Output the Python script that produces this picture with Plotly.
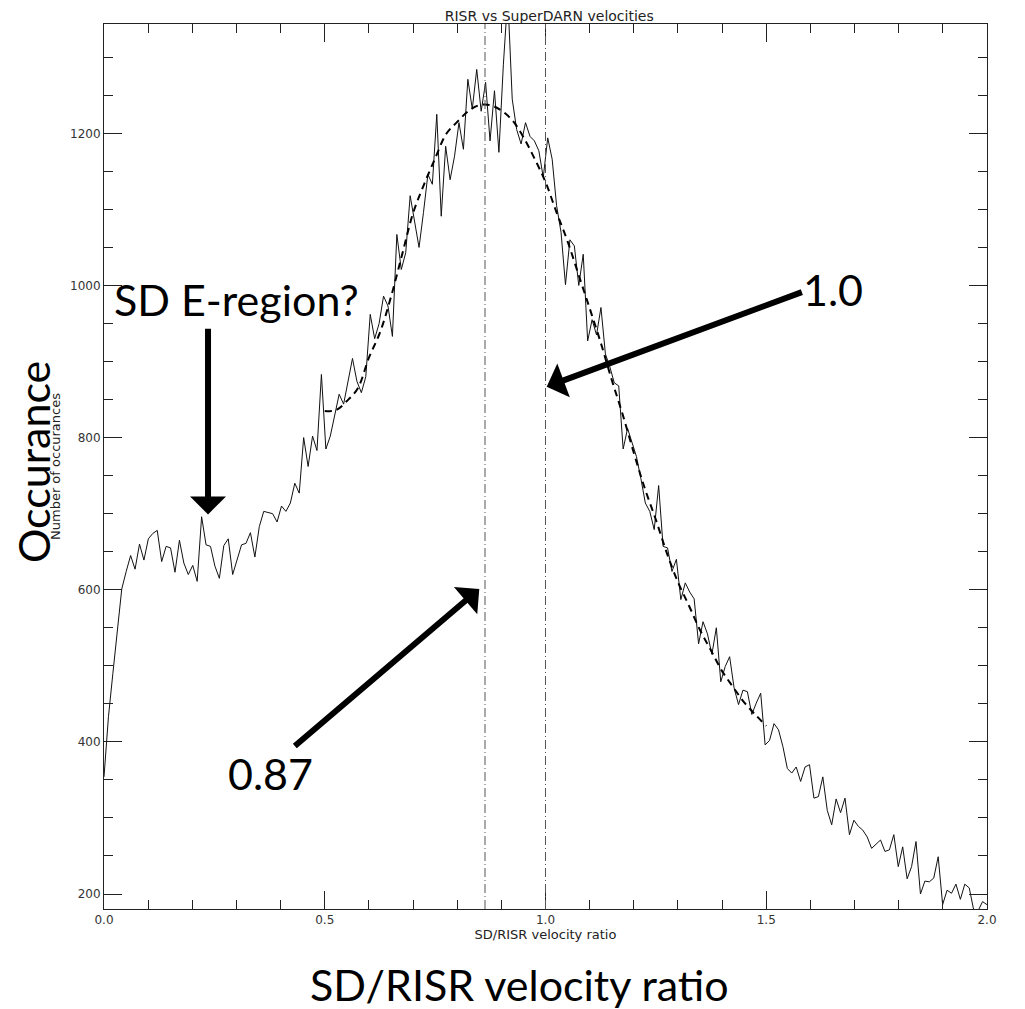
import numpy as np
import plotly.graph_objects as go

# ---------------- data ----------------
ratio_counts = [
    354, 433, 490, 545, 601, 624, 645, 627, 660, 639,
    667, 674, 678, 637, 657, 655, 623, 665, 635, 620,
    632, 611, 696, 659, 657, 631, 615, 658, 667, 620,
    640, 659, 661, 675, 643, 683, 703, 701, 700, 689,
    710, 703, 714, 740, 727, 800, 762, 802, 783, 883,
    785, 802, 830, 857, 844, 875, 904, 874, 859, 880,
    962, 930, 950, 986, 973, 933, 1067, 1021, 1043, 1118,
    1085, 1050, 1096, 1146, 1133, 1225, 1091, 1183, 1139, 1170,
    1214, 1179, 1271, 1232, 1284, 1229, 1267, 1190, 1256, 1175,
    1290, 1380, 1245, 1205, 1186, 1214, 1196, 1190, 1177, 1142,
    1194, 1166, 1105, 1070, 1001, 1060, 1052, 1000, 1041, 927,
    955, 935, 971, 910, 893, 872, 868, 785, 812, 794,
    775, 746, 714, 703, 679, 737, 657, 655, 624, 640,
    587, 609, 597, 588, 529, 558, 542, 515, 550, 479,
    499, 512, 471, 449, 468, 466, 436, 451, 464, 396,
    402, 424, 416, 394, 365, 359, 367, 348, 367, 370,
    326, 328, 354, 310, 291, 325, 307, 326, 278, 297,
    289, 284, 275, 260, 265, 271, 256, 258, 278, 236,
    262, 220, 236, 269, 200, 217, 216, 221, 249, 186,
    205, 201, 213, 193, 213, 208, 179, 178, 190, 186,
]
ratio_bins = np.linspace(0.0, 2.0, len(ratio_counts))

fit_x = [0.50, 0.525, 0.55, 0.575, 0.60, 0.625, 0.65, 0.675, 0.70, 0.725,
         0.75, 0.775, 0.80, 0.825, 0.85, 0.875, 0.90, 0.925, 0.95, 0.975,
         1.00, 1.025, 1.05, 1.075, 1.10, 1.125, 1.15, 1.175, 1.20, 1.225,
         1.25, 1.275, 1.30, 1.325, 1.35, 1.375, 1.40, 1.425, 1.45, 1.475, 1.50]
fit_y = [835, 836, 848, 865, 905, 938, 985, 1040, 1095, 1133,
         1167, 1199, 1215, 1229, 1237, 1237, 1230, 1217, 1195, 1167,
         1136, 1096, 1058, 1014, 970, 925, 876, 830, 780, 733,
         692, 648, 610, 579, 547, 520, 493, 472, 452, 436, 421]

ref_ratios = [0.863, 1.0]

x_ticks = [0.0, 0.5, 1.0, 1.5, 2.0]
x_tick_text = ["0.0", "0.5", "1.0", "1.5", "2.0"]
y_ticks = [200, 400, 600, 800, 1000, 1200]
y_tick_text = ["200", "400", "600", "800", "1000", "1200"]

# ---------------- figure ----------------
fig = go.Figure()

fig.add_trace(go.Scatter(
    x=ratio_bins, y=ratio_counts, mode="lines",
    line=dict(color="#111111", width=1), showlegend=False, hoverinfo="skip"))

fig.add_trace(go.Scatter(
    x=fit_x, y=fit_y, mode="lines", line_shape="spline",
    line=dict(color="#000000", width=2, dash="7px,5px"),
    showlegend=False, hoverinfo="skip"))

for r in ref_ratios:
    fig.add_shape(type="line", xref="x", yref="paper", x0=r, x1=r, y0=0, y1=1,
                  line=dict(color="#555555", width=1, dash="9px,3px,1px,3px"))

big_font = dict(family="Lato", size=43, color="#000000")
small_font = dict(family="DejaVu Sans", size=13, color="#222222")
tick_font = dict(family="DejaVu Sans", size=12, color="#333333")

axis_common = dict(
    showline=True, linecolor="#222222", linewidth=1, mirror="ticks",
    ticks="inside", tickcolor="#222222", tickwidth=1, ticklen=18,
    showgrid=False, zeroline=False, tickfont=tick_font, automargin=False,
)

fig.update_xaxes(
    range=[0, 2], tickvals=x_ticks, ticktext=x_tick_text,
    minor=dict(ticks="inside", ticklen=9, dtick=0.1, tick0=0, tickcolor="#222222", showgrid=False),
    title=dict(text="SD/RISR velocity ratio", font=small_font, standoff=3),
    **axis_common)
fig.update_yaxes(
    range=[180.3, 1343.7], tickvals=y_ticks, ticktext=y_tick_text,
    minor=dict(ticks="inside", ticklen=9, dtick=50, tick0=200, tickcolor="#222222", showgrid=False),
    title=dict(text="Number of occurances", font=small_font, standoff=6),
    **axis_common)

# overlay labels
fig.add_annotation(text="Occurance", xref="paper", yref="paper", x=-0.0804, y=0.505,
                   textangle=-90, showarrow=False, font=big_font,
                   xanchor="center", yanchor="middle")
fig.add_annotation(text="SD/RISR velocity ratio", xref="paper", yref="paper", x=0.471, y=-0.085,
                   showarrow=False, font=big_font, xanchor="center", yanchor="middle")
fig.add_annotation(text="SD E-region?", xref="x", yref="y", x=0.299, y=982,
                   showarrow=False, font=big_font, xanchor="center", yanchor="middle")
fig.add_annotation(text="1.0", xref="x", yref="y", x=1.651, y=995,
                   showarrow=False, font=big_font, xanchor="center", yanchor="middle")
fig.add_annotation(text="0.87", xref="x", yref="y", x=0.376, y=358,
                   showarrow=False, font=big_font, xanchor="center", yanchor="middle")

arrow_style = dict(showarrow=True, arrowhead=1, arrowsize=1.0, arrowwidth=6,
                   arrowcolor="#000000", text="", xref="x", yref="y",
                   axref="x", ayref="y", standoff=0, startstandoff=0)
fig.add_annotation(x=0.2356, y=699, ax=0.2356, ay=945, **arrow_style)
fig.add_annotation(x=1.0027, y=867, ax=1.584, ay=992, **arrow_style)
fig.add_annotation(x=0.850, y=601, ax=0.4288, ay=393, **arrow_style)

# the page body adds an 8px margin, so the figure is offset by (8, 8)
fig.update_layout(
    width=1017, height=1001, autosize=False,
    margin=dict(l=96, r=38, t=16, b=100),
    plot_bgcolor="white", paper_bgcolor="white",
    title=dict(text="RISR vs SuperDARN velocities", x=0.5322, xanchor="center",
               y=1 - 8 / 1001, yanchor="middle", yref="container",
               font=dict(family="DejaVu Sans", size=14, color="#222222")),
)

fig.write_html("out.html")
